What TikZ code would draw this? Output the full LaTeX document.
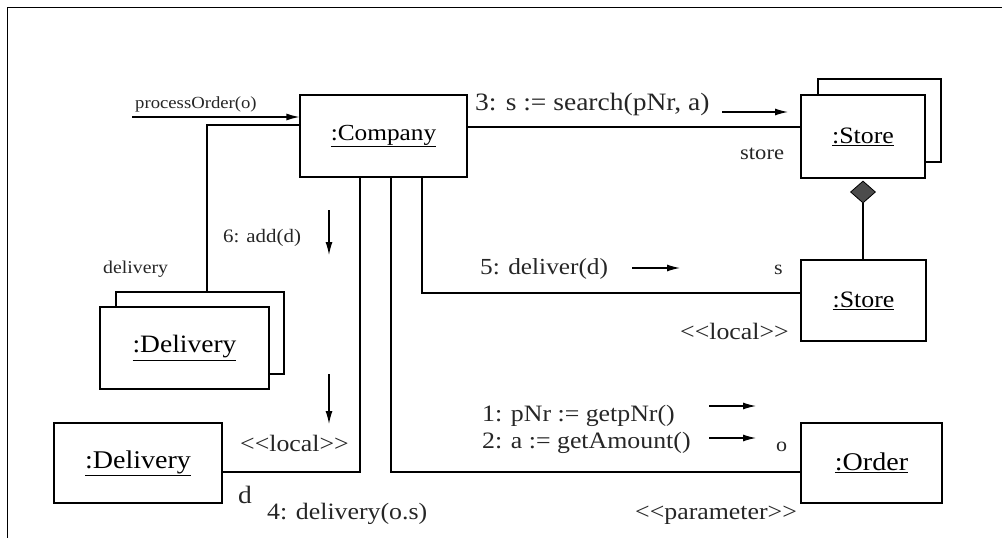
\documentclass[tikz,border=0pt]{standalone}
\usepackage{fontspec}
\setmainfont[FakeStretch=1.1]{Liberation Serif}
\usetikzlibrary{arrows.meta,shapes.geometric}
\begin{document}
\begin{tikzpicture}[x=1pt,y=-1pt,
  obj/.style={draw, line width=1.2pt, fill=white, inner sep=0pt},
  conn/.style={line width=1.2pt},
  msg/.style={line width=1.2pt, -{Latex[length=13pt,width=7pt]}},
  fs/.style={font=\fontsize{#1}{#1}\selectfont},
  lbl/.style={inner sep=0pt, anchor=west, text=black!85}]
\useasboundingbox (0,0) rectangle (1005,538);
\draw[line width=1pt] (7,538) -- (7,7) -- (1002,7);

% objects
\node[obj, fs=23, minimum width=167pt, minimum height=82pt] (company) at (383.5,136) {\underline{:Company}};
\node[obj, minimum width=123pt, minimum height=83pt] (storeB) at (879.5,120.5) {};
\node[obj, fs=23.5, minimum width=124pt, minimum height=83pt] (storeT) at (863,136.5) {\underline{:Store}};
\node[obj, fs=23.5, minimum width=125pt, minimum height=81pt] (storeL) at (863.5,300.5) {\underline{:Store}};
\node[obj, fs=25.5, minimum width=141pt, minimum height=80pt] (order) at (871.5,463) {\underline{:Order}};
\node[obj, minimum width=168pt, minimum height=82pt] (delivB) at (200,333) {};
\node[obj, fs=25, minimum width=169pt, minimum height=82pt] (delivF) at (184.5,348) {\underline{:Delivery}};
\node[obj, fs=25.5, minimum width=168pt, minimum height=80pt] (deliv) at (138,463) {\underline{:Delivery}};

% composition
\node[diamond, draw, fill=gray!60!black, line width=0.8pt, minimum width=25pt, minimum height=22pt, inner sep=0pt, anchor=north] (dia) at ([yshift=-2pt]storeT.south) {};
\draw[conn] (dia.south) -- (dia.south |- storeL.north);

% links
\coordinate (po) at (132,117);
\draw[msg] (po) -- (po -| company.west);
\draw[conn] ([yshift=9pt]company.east) -- ([yshift=9pt]company.east -| storeT.west);
\draw[conn] ([yshift=11pt]company.west) -| ([xshift=7pt]delivB.north);
\draw[conn] ([xshift=-23.5pt]company.south) |- ([yshift=-9pt]deliv.east);
\draw[conn] ([xshift=7.5pt]company.south) |- ([yshift=-9pt]order.west);
\draw[conn] ([xshift=38.5pt]company.south) |- ([yshift=7.5pt]storeL.west);

% message arrows
\coordinate (m3a) at (722,112); \coordinate (m3b) at (788,112);
\coordinate (m5a) at (632,268); \coordinate (m5b) at (680,268);
\coordinate (m1a) at (709,406); \coordinate (m1b) at (756,406);
\coordinate (m2a) at (709,438); \coordinate (m2b) at (756,438);
\coordinate (m6a) at (329,210); \coordinate (m6b) at (329,255);
\coordinate (m4a) at (329,374); \coordinate (m4b) at (329,424);
\draw[msg] (m3a) -- (m3b);
\draw[msg] (m5a) -- (m5b);
\draw[msg] (m1a) -- (m1b);
\draw[msg] (m2a) -- (m2b);
\draw[msg] (m6a) -- (m6b);
\draw[msg] (m4a) -- (m4b);

% labels
\node[lbl, fs=17] (tpo) at (135,104) {processOrder(o)};
\node[lbl, fs=25] (t3) at (475,104) {3: s := search(pNr, a)};
\node[lbl, fs=20.5] (tstore) at (740,154) {store};
\node[lbl, fs=18] (tdel) at (103,269) {delivery};
\node[lbl, fs=19] (t6) at (223,238) {6: add(d)};
\node[lbl, fs=23] (t5) at (480,269) {5: deliver(d)};
\node[lbl, fs=20] (ts) at (774,270) {s};
\node[lbl, fs=23.5] (tloc1) at (680,331) {<{}<local>{}>};
\node[lbl, fs=23.5] (t1) at (482,416) {1: pNr := getpNr()};
\node[lbl, fs=23.5] (t2) at (482,443) {2: a := getAmount()};
\node[lbl, fs=20] (to) at (776,447) {o};
\node[lbl, fs=23.5] (tpar) at (635,515) {<{}<parameter>{}>};
\node[lbl, fs=23.5] (tloc2) at (240,443) {<{}<local>{}>};
\node[lbl, fs=25] (td) at (238,495) {d};
\node[lbl, fs=23.5] (t4) at (267,514) {4: delivery(o.s)};
\end{tikzpicture}
\end{document}
